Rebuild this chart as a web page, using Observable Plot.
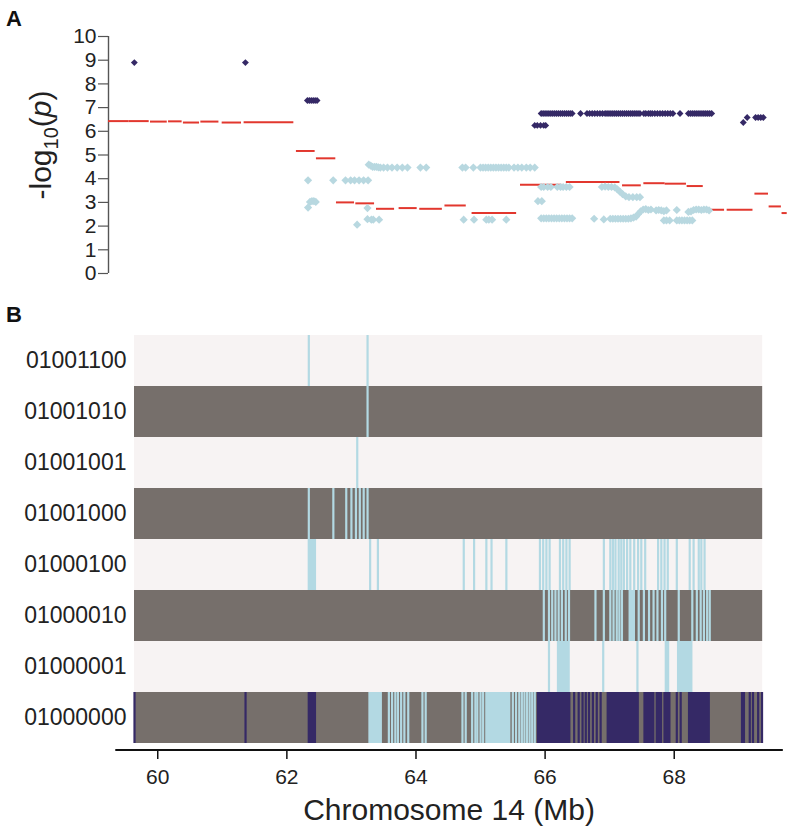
<!DOCTYPE html>
<html><head><meta charset="utf-8">
<script src="https://cdn.jsdelivr.net/npm/d3@7"></script>
<script src="https://cdn.jsdelivr.net/npm/@observablehq/plot@0.6"></script>
<style>
body{margin:0;background:#fff;}
#chart{width:788px;height:828px;font-family:"Liberation Sans",Arial,Helvetica,sans-serif;}
#chart svg{display:block;overflow:visible;}
</style></head><body><div id="chart"></div>
<script>
// ---------------- DATA ----------------
// Panel A: -log10(p) of lead-haplotype SNPs (dark) and other SNPs (light), position in Mb
const darkSnps = [
  [59.64, 8.9], [61.36, 8.9],
  [62.32, 7.3], [62.35, 7.3], [62.38, 7.3], [62.41, 7.3], [62.44, 7.3], [62.47, 7.3],
  [65.84, 6.25], [65.88, 6.25], [65.93, 6.25], [65.98, 6.25], [66.01, 6.25],
  [65.94, 6.75], [65.97, 6.75], [66.00, 6.75], [66.03, 6.75], [66.06, 6.75], [66.09, 6.75], [66.12, 6.75],
  [66.15, 6.75], [66.18, 6.75], [66.21, 6.75], [66.24, 6.75], [66.27, 6.75], [66.30, 6.75], [66.33, 6.75],
  [66.36, 6.75], [66.39, 6.75], [66.42, 6.75], [66.55, 6.75],
  [66.65, 6.75], [66.69, 6.75], [66.73, 6.75], [66.77, 6.75], [66.81, 6.75], [66.85, 6.75], [66.89, 6.75], [66.93, 6.75],
  [66.96, 6.75], [66.99, 6.75], [67.02, 6.75], [67.05, 6.75], [67.08, 6.75], [67.11, 6.75], [67.14, 6.75],
  [67.17, 6.75], [67.20, 6.75], [67.23, 6.75], [67.26, 6.75], [67.29, 6.75], [67.32, 6.75], [67.35, 6.75],
  [67.38, 6.75], [67.41, 6.75], [67.44, 6.75], [67.47, 6.75],
  [67.53, 6.75], [67.56, 6.75], [67.60, 6.75], [67.63, 6.75], [67.66, 6.75], [67.70, 6.75], [67.74, 6.75],
  [67.78, 6.75], [67.82, 6.75], [67.86, 6.75], [67.90, 6.75], [67.94, 6.75], [67.98, 6.75], [68.09, 6.75],
  [68.22, 6.75], [68.25, 6.75], [68.28, 6.75], [68.31, 6.75], [68.34, 6.75], [68.37, 6.75], [68.40, 6.75],
  [68.43, 6.75], [68.46, 6.75], [68.49, 6.75], [68.52, 6.75], [68.55, 6.75], [68.58, 6.75],
  [69.07, 6.37], [69.13, 6.58], [69.26, 6.58], [69.30, 6.58], [69.34, 6.58], [69.38, 6.58]
];
const lightSnps = [
  [62.33, 3.93], [62.33, 2.78], [62.36, 3.02], [62.39, 3.05], [62.42, 3.05], [62.45, 3.02],
  [62.72, 3.93], [62.91, 3.93], [62.99, 3.93], [63.05, 3.93], [63.12, 3.93], [63.19, 3.93], [63.26, 3.93],
  [63.25, 2.76], [63.09, 2.06], [63.25, 2.29], [63.31, 2.27], [63.34, 2.27], [63.43, 2.27],
  [63.27, 4.59], [63.30, 4.55], [63.33, 4.50], [63.36, 4.50], [63.39, 4.50], [63.42, 4.48],
  [63.45, 4.47], [63.50, 4.47], [63.56, 4.47], [63.63, 4.47], [63.71, 4.47], [63.79, 4.47], [63.87, 4.47],
  [64.07, 4.47], [64.16, 4.47],
  [64.72, 4.47], [64.77, 4.47], [64.89, 4.47], [65.00, 4.47], [65.04, 4.47], [65.08, 4.47], [65.12, 4.47],
  [65.16, 4.47], [65.20, 4.47], [65.24, 4.47], [65.28, 4.47], [65.32, 4.47], [65.36, 4.47], [65.40, 4.47],
  [65.44, 4.47], [65.52, 4.47], [65.58, 4.47], [65.64, 4.47], [65.71, 4.47], [65.77, 4.47], [65.84, 4.47],
  [64.74, 2.27], [64.90, 2.27], [65.09, 2.27], [65.13, 2.27], [65.18, 2.27], [65.40, 2.27],
  [65.89, 3.05], [65.95, 3.05],
  [65.94, 3.65], [65.98, 3.65], [66.04, 3.65], [66.09, 3.65], [66.19, 3.65], [66.24, 3.65], [66.28, 3.65],
  [66.33, 3.65], [66.38, 3.65],
  [65.94, 2.33], [65.98, 2.33], [66.02, 2.33], [66.06, 2.33], [66.10, 2.33], [66.14, 2.33], [66.18, 2.33],
  [66.22, 2.33], [66.26, 2.33], [66.30, 2.33], [66.34, 2.33], [66.38, 2.33], [66.42, 2.33],
  [66.88, 3.65], [66.93, 3.67], [66.98, 3.65], [67.03, 3.65], [67.08, 3.63], [67.12, 3.55], [67.16, 3.45],
  [67.20, 3.35], [67.25, 3.25], [67.30, 3.22], [67.36, 3.22], [67.42, 3.22], [67.47, 3.22],
  [66.76, 2.31], [66.91, 2.28], [67.01, 2.31], [67.05, 2.31], [67.09, 2.31], [67.13, 2.31], [67.17, 2.31],
  [67.21, 2.31], [67.25, 2.31], [67.29, 2.31], [67.33, 2.33], [67.37, 2.36], [67.41, 2.40], [67.44, 2.50],
  [67.48, 2.62], [67.52, 2.70], [67.56, 2.72], [67.60, 2.68], [67.64, 2.70], [67.72, 2.66], [67.76, 2.68],
  [67.80, 2.66], [67.84, 2.63], [67.88, 2.66], [68.04, 2.68], [68.22, 2.60], [68.26, 2.62], [68.30, 2.68],
  [68.34, 2.70], [68.38, 2.70], [68.42, 2.68], [68.46, 2.70], [68.50, 2.70], [68.54, 2.66],
  [67.84, 2.24], [67.88, 2.24], [67.93, 2.24], [68.04, 2.24], [68.08, 2.24], [68.12, 2.24], [68.16, 2.24],
  [68.20, 2.24], [68.24, 2.24], [68.28, 2.24]
];
// red window segments: [start Mb, end Mb, -log10 p]
const redSegments = [
  [59.24, 59.56, 6.43], [59.56, 59.87, 6.43], [59.89, 60.15, 6.41], [60.17, 60.38, 6.42],
  [60.40, 60.65, 6.37], [60.67, 60.95, 6.41], [61.00, 61.30, 6.37], [61.34, 62.11, 6.38],
  [62.15, 62.44, 5.17], [62.46, 62.76, 4.86], [62.77, 63.05, 3.00], [63.07, 63.36, 2.96],
  [63.39, 63.67, 2.73], [63.74, 64.02, 2.76], [64.06, 64.41, 2.73], [64.45, 64.78, 2.87],
  [64.87, 65.56, 2.55], [65.62, 66.26, 3.75], [66.33, 67.16, 3.86], [67.20, 67.49, 3.72],
  [67.53, 67.86, 3.81], [67.86, 68.19, 3.79], [68.20, 68.45, 3.69], [68.45, 68.78, 2.69],
  [68.82, 69.22, 2.69], [69.25, 69.46, 3.37], [69.47, 69.66, 2.83], [69.67, 69.75, 2.55]
];
const yTicks = [0, 1, 2, 3, 4, 5, 6, 7, 8, 9, 10];

// Panel B: haplotype rows
const rowLabels = ["01001100", "01001010", "01001001", "01001000", "01000100", "01000010", "01000001", "01000000"];
const rowSpan = [59.64, 69.37];
const lightLinesByRow = [
  [62.34, 63.25],
  [63.25],
  [63.09],
  [62.34, 62.72, 62.92, 63.00, 63.07, 63.13, 63.19, 63.25],
  [63.29, 63.41, 64.74, 64.90, 65.09, 65.17, 65.40, 65.92, 65.97, 66.02, 66.07, 66.23, 66.28, 66.33, 66.38,
   66.91, 67.01, 67.05, 67.09, 67.14, 67.18, 67.22, 67.27, 67.32, 67.38, 67.44, 67.49, 67.55, 67.75, 67.80,
   67.85, 67.90, 68.04, 68.24, 68.30, 68.38, 68.42, 68.47],
  [65.98, 66.06, 66.11, 66.16, 66.21, 66.26, 66.32, 66.37, 66.78, 66.91, 67.01, 67.06, 67.11, 67.15, 67.19,
   67.45, 67.53, 67.61, 67.68, 67.74, 67.81, 67.86, 68.07, 68.28, 68.35, 68.41, 68.46, 68.51, 68.55],
  [66.06, 66.90, 67.43],
  [63.58, 63.63, 63.68, 63.72, 63.77, 63.82, 63.88, 64.10, 64.15, 64.72, 64.77, 64.87, 64.92, 64.95, 65.00,
   65.04, 65.50, 65.55, 65.60, 65.64, 65.68, 65.72, 65.76, 65.80, 65.84]
];
const lightSpansByRow = [
  [], [], [], [],
  [[62.33, 62.46]],
  [[67.30, 67.40]],
  [[66.19, 66.39], [67.86, 67.93], [68.05, 68.29]],
  [[63.27, 63.48], [65.08, 65.47]]
];
const darkLinesRow8 = [59.64, 61.36, 66.45, 66.52, 66.58, 66.63, 66.68, 66.74, 66.80, 66.86, 68.04, 68.10,
  69.05, 69.08, 69.17, 69.22, 69.30, 69.36];
const darkSpansRow8 = [[62.33, 62.46], [65.88, 66.40], [66.96, 67.46], [67.53, 67.70], [67.72, 67.82],
  [67.84, 67.95], [68.22, 68.56]];
const xTicks = [60, 62, 64, 66, 68];
const xTitle = "Chromosome 14 (Mb)";

// ---------------- STYLE ----------------
const FONT = '"Liberation Sans", Arial, Helvetica, sans-serif';
const RED = "#e2372e", LIGHTPT = "#b8d8e0", NAVY = "#352966";
const ROW_LIGHT = "#f7f3f3", ROW_DARK = "#766f6b", LB = "#b3d9e3";
const topX = [59.24, 69.77], bottomX = [59.64, 69.77], axisExtent = [59.35, 69.69];

const chart = document.getElementById("chart");

// ---------------- PANEL A ----------------
const topH = 290, topMT = 36, topMB = 17;
const topPlot = Plot.plot({
  width: 788, height: topH,
  marginLeft: 108, marginRight: 0, marginTop: topMT, marginBottom: topMB,
  style: {fontFamily: FONT, color: "#222", background: "transparent", overflow: "visible"},
  x: {domain: topX, axis: null},
  y: {domain: [0, 10]},
  marks: [
    Plot.axisY(yTicks, {tickSize: 10, tickPadding: 2, fontSize: 21, label: null, stroke: "#555", strokeWidth: 1.2, fill: "#222"}),
    Plot.ruleX([topX[0]], {y1: 0, y2: 10, stroke: "#555", strokeWidth: 1.4}),
    Plot.ruleY(redSegments, {x1: d => d[0], x2: d => d[1], y: d => d[2], stroke: RED, strokeWidth: 2}),
    Plot.dot(lightSnps, {x: d => d[0], y: d => d[1], symbol: "diamond2", r: 3.7, fill: LIGHTPT, stroke: "none"}),
    Plot.dot(darkSnps, {x: d => d[0], y: d => d[1], symbol: "diamond2", r: 3.1, fill: NAVY, stroke: "none"})
  ]
});
chart.appendChild(topPlot);
const ts = d3.select(topPlot);
ts.append("text").attr("x", 6).attr("y", 26).attr("text-anchor", "start").style("font-size", "22px").style("font-weight", "bold")
  .style("font-family", FONT).attr("fill", "#111").text("A");
const yl = ts.append("text").attr("transform", "translate(51,145) rotate(-90)")
  .attr("text-anchor", "middle").style("font-size", "30px").style("font-family", FONT).attr("fill", "#222");
yl.append("tspan").text("-log");
yl.append("tspan").style("font-size", "20px").attr("dy", 7).text("10");
yl.append("tspan").attr("dy", -7).text("(");
yl.append("tspan").style("font-style", "italic").text("p");
yl.append("tspan").text(")");

// ---------------- PANEL B ----------------
const rows = rowLabels.map((label, i) => ({label, i, start: rowSpan[0], end: rowSpan[1]}));
const lightLines = lightLinesByRow.flatMap((arr, i) => arr.map(pos => ({label: rowLabels[i], pos})));
const lightSpans = lightSpansByRow.flatMap((arr, i) => arr.map(([a, b]) => ({label: rowLabels[i], a, b})));
const lastRow = rowLabels[rowLabels.length - 1];
const darkLines = darkLinesRow8.map(pos => ({label: lastRow, pos}));
const darkSpans = darkSpansRow8.map(([a, b]) => ({label: lastRow, a, b}));

const botH = 538, botMT = 41, botMB = 78;
const botPlot = Plot.plot({
  width: 788, height: botH,
  marginLeft: 134, marginRight: 0, marginTop: botMT, marginBottom: botMB,
  style: {fontFamily: FONT, color: "#222", background: "transparent", overflow: "visible"},
  x: {domain: bottomX},
  y: {domain: rowLabels, padding: 0, insetBottom: 4},
  marks: [
    Plot.barX(rows, {x1: "start", x2: "end", y: "label", fill: d => d.i % 2 ? ROW_DARK : ROW_LIGHT}),
    Plot.barX(lightSpans, {x1: "a", x2: "b", y: "label", fill: LB}),
    Plot.tickX(lightLines, {x: "pos", y: "label", stroke: LB, strokeWidth: 2.2}),
    Plot.barX(darkSpans, {x1: "a", x2: "b", y: "label", fill: NAVY}),
    Plot.tickX(darkLines, {x: "pos", y: "label", stroke: NAVY, strokeWidth: 2.2}),
    Plot.axisY({tickSize: 0, tickPadding: 8, fontSize: 23, label: null, fill: "#222"}),
    Plot.axisX(xTicks, {tickSize: 9, tickPadding: 10, fontSize: 21, label: null, stroke: "#111", strokeWidth: 1.5, fill: "#222"})
  ]
});
chart.appendChild(botPlot);
const bs = d3.select(botPlot);
const xs = botPlot.scale("x");
const axisPos = botH - botMB;
bs.append("line").attr("x1", xs.apply(axisExtent[0])).attr("x2", xs.apply(axisExtent[1]))
  .attr("y1", axisPos).attr("y2", axisPos).attr("stroke", "#111").attr("stroke-width", 2);
bs.append("text").attr("x", (xs.apply(axisExtent[0]) + xs.apply(axisExtent[1])) / 2).attr("y", 530)
  .attr("text-anchor", "middle").style("font-size", "30px").style("font-family", FONT).attr("fill", "#222").text(xTitle);
bs.append("text").attr("x", 6).attr("y", 32).attr("text-anchor", "start").style("font-size", "22px").style("font-weight", "bold")
  .style("font-family", FONT).attr("fill", "#111").text("B");
</script>
</body></html>
